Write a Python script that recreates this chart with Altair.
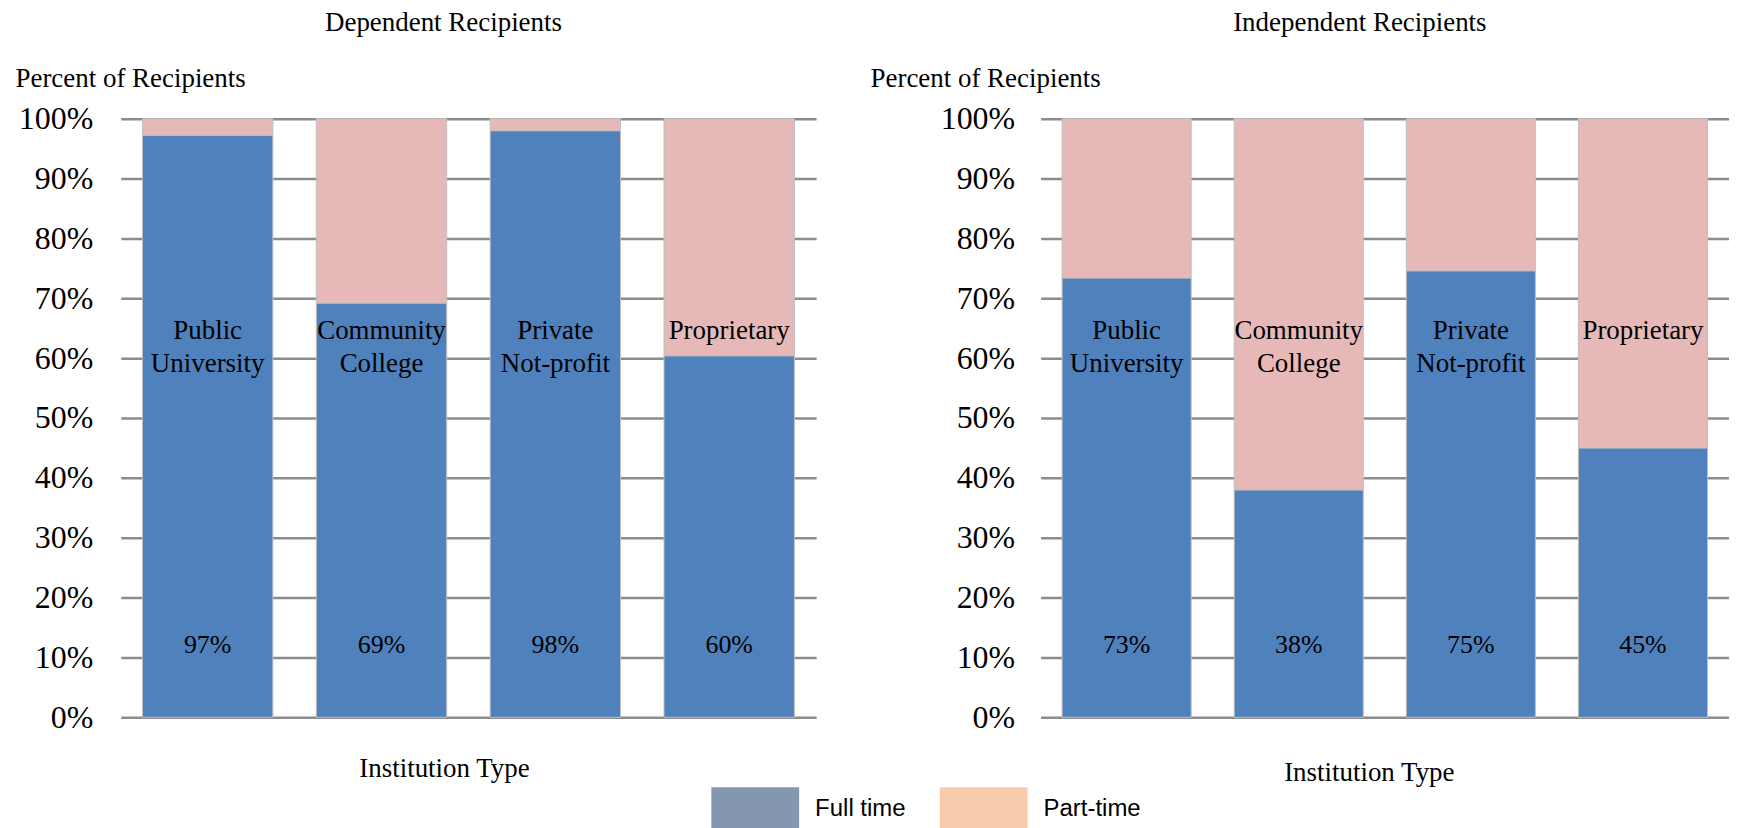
import altair as alt
import pandas as pd

categories = ["Public University", "Community College", "Private Not-profit", "Proprietary"]
cat_labels = ["Public\nUniversity", "Community\nCollege", "Private\nNot-profit", "Proprietary"]
dependent_full = [97.2, 69.2, 98.0, 60.4]
independent_full = [73.4, 38.0, 74.6, 45.0]
series = ["Full time", "Part-time"]
bar_colors = ["#4F81BD", "#E6B9B8"]
legend_colors = ["#8497B0", "#F8CBAD"]
y_ticks = list(range(0, 101, 10))

SERIF = "Liberation Serif"


def panel(full, title_text, width, title_dx, title_offset, ytitle_x, ytitle_y,
          xtitle_x, xtitle_y, label_pad, with_legend):
    rows = []
    for cat, f in zip(categories, full):
        rows.append({"category": cat, "series": series[0], "value": f, "order": 0})
        rows.append({"category": cat, "series": series[1], "value": round(100 - f, 1), "order": 1})
    df = pd.DataFrame(rows)
    lab_df = pd.DataFrame({"category": categories, "label": cat_labels, "full": full})

    x_axis = alt.Axis(labels=False, ticks=False, domain=False, grid=False,
                      title="Institution Type", titleFont=SERIF, titleFontSize=27,
                      titleFontWeight="normal", titleColor="black",
                      titleBaseline="alphabetic", titleX=xtitle_x, titleY=xtitle_y,
                      titleAlign="center")
    y_axis = alt.Axis(values=y_ticks, labelExpr="datum.value + '%'", grid=True,
                      gridColor="#8C8C8C", gridWidth=2.5, domain=False, ticks=False,
                      labelFont=SERIF, labelFontSize=32, labelColor="black",
                      labelPadding=label_pad, title="Percent of Recipients",
                      titleAngle=0, titleAlign="left", titleBaseline="alphabetic",
                      titleX=ytitle_x, titleY=ytitle_y, titleFont=SERIF,
                      titleFontSize=27, titleFontWeight="normal", titleColor="black")
    y_scale = alt.Scale(domain=[0, 100], nice=False)
    x = alt.X("category:N", sort=categories,
              scale=alt.Scale(paddingInner=0.25, paddingOuter=0.125), axis=x_axis)

    bars = alt.Chart(df).mark_bar(stroke="#BFBFBF", strokeWidth=1).encode(
        x=x,
        y=alt.Y("value:Q", stack="zero", scale=y_scale, axis=y_axis),
        color=alt.Color("series:N", scale=alt.Scale(domain=series, range=bar_colors), legend=None),
        order=alt.Order("order:Q", sort="ascending"),
    )
    names = alt.Chart(lab_df).mark_text(
        font=SERIF, fontSize=27, lineBreak="\n", lineHeight=33,
        baseline="alphabetic", align="center", color="black"
    ).encode(
        x=x,
        y=alt.YDatum(63.2, scale=y_scale, axis=y_axis),
        text="label:N",
    )
    pcts = alt.Chart(lab_df).transform_calculate(
        pct="format(datum.full, '.0f') + '%'"
    ).mark_text(
        font=SERIF, fontSize=26, baseline="alphabetic", align="center", color="black"
    ).encode(
        x=x,
        y=alt.YDatum(10.8, scale=y_scale, axis=y_axis),
        text="pct:N",
    )
    layers = [bars, names, pcts]
    if with_legend:
        dummy = alt.Chart(df).mark_square(opacity=0, size=1).encode(
            x=x,
            y=alt.YDatum(0, scale=y_scale, axis=y_axis),
            fill=alt.Fill("series:N",
                          scale=alt.Scale(domain=series, range=legend_colors),
                          legend=alt.Legend(orient="none", legendX=592, legendY=648,
                                            direction="horizontal", title=None,
                                            symbolType="M-1,-0.5H1V0.5H-1Z",
                                            symbolSize=7744, symbolStrokeWidth=0,
                                            symbolOpacity=1,
                                            labelFont="Liberation Sans", labelFontSize=24,
                                            labelColor="black", labelOffset=16,
                                            columnPadding=34, padding=0)),
        )
        layers.append(dummy)
    return alt.layer(*layers).properties(
        width=width, height=600,
        title=alt.TitleParams(title_text, font=SERIF, fontSize=27, fontWeight="normal",
                              color="black", frame="group", dx=title_dx,
                              baseline="alphabetic", offset=title_offset),
    ).resolve_legend(fill="independent")


left = panel(dependent_full, "Dependent Recipients", 697, -25, 7, -106, -32, 324, 59, 28, True)
right = panel(independent_full, "Independent Recipients", 690, -25, 7, -171, -32, 329, 63, 26, False)

chart = alt.hconcat(left, right, spacing=225, bounds="flush").resolve_legend(
    fill="independent"
).properties(
    padding={"left": 7, "top": 0, "right": 0, "bottom": 0}
).configure(font=SERIF).configure_view(stroke=None).configure_concat(spacing=225)

chart.save("out.html", embed_options={"renderer": "svg", "actions": False})
